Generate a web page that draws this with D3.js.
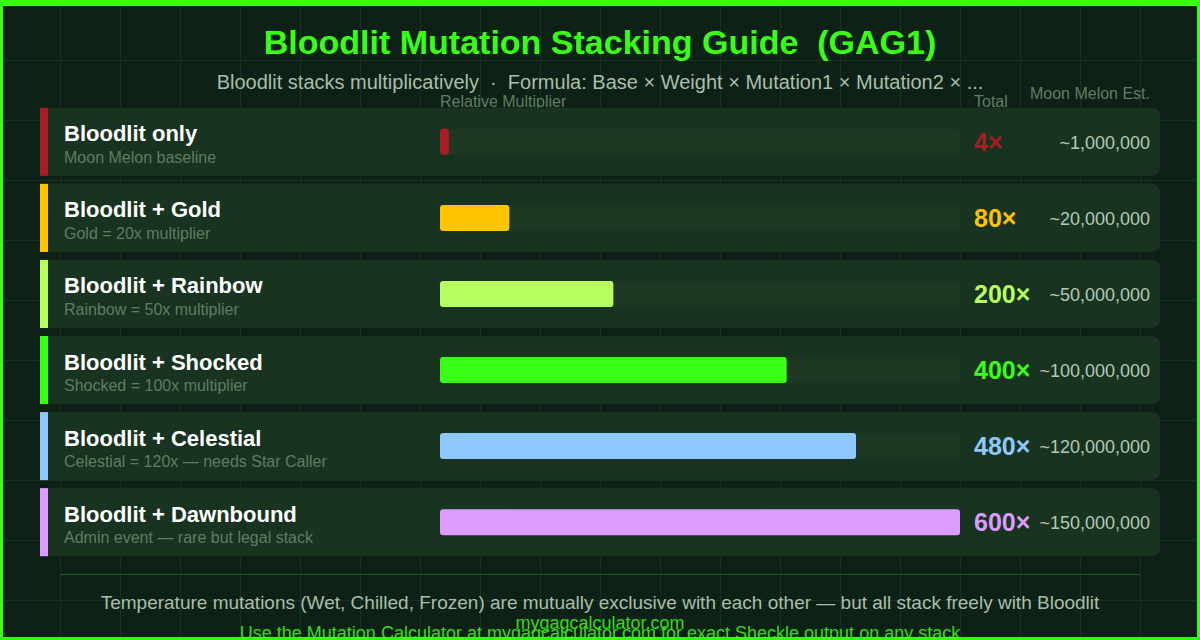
<!DOCTYPE html>
<html>
<head>
<meta charset="utf-8">
<script src="https://cdn.jsdelivr.net/npm/d3@7"></script>
<style>
  html, body { margin: 0; padding: 0; background: #0e2116; }
  svg { display: block; font-family: "Liberation Sans", Arial, sans-serif; }
</style>
</head>
<body>
<div id="chart"></div>
<script>
// data
var names = ["Bloodlit only", "Bloodlit + Gold", "Bloodlit + Rainbow", "Bloodlit + Shocked", "Bloodlit + Celestial", "Bloodlit + Dawnbound"];
var notes = ["Moon Melon baseline", "Gold = 20x multiplier", "Rainbow = 50x multiplier", "Shocked = 100x multiplier", "Celestial = 120x \u2014 needs Star Caller", "Admin event \u2014 rare but legal stack"];
var totals = [4, 80, 200, 400, 480, 600];
var estimates = ["~1,000,000", "~20,000,000", "~50,000,000", "~100,000,000", "~120,000,000", "~150,000,000"];
var colors = ["#a61e22", "#ffc300", "#b5ff5e", "#39ff14", "#8fc8ff", "#dc9cff"];

var width = 1200, height = 640;
var green = "#39ff14";

var svg = d3.select("#chart").append("svg")
    .attr("width", width)
    .attr("height", height);

svg.append("rect").attr("width", width).attr("height", height).attr("fill", "#0e2116");

// background grid
var grid = svg.append("g").attr("stroke", "#173222").attr("stroke-width", 1);
grid.selectAll("line.v").data(d3.range(60, width, 60)).enter().append("line")
    .attr("x1", d => d + 0.5).attr("x2", d => d + 0.5).attr("y1", 0).attr("y2", height);
grid.selectAll("line.h").data(d3.range(60, height, 60)).enter().append("line")
    .attr("x1", 0).attr("x2", width).attr("y1", d => d + 0.5).attr("y2", d => d + 0.5);

// titles
svg.append("text")
    .attr("x", 600).attr("y", 54)
    .attr("text-anchor", "middle")
    .attr("fill", green)
    .style("font-size", "34px").style("font-weight", "bold")
    .text("Bloodlit Mutation Stacking Guide \u00a0(GAG1)");

svg.append("text")
    .attr("x", 600).attr("y", 89)
    .attr("text-anchor", "middle")
    .attr("fill", "#a9bfa9")
    .style("font-size", "20px")
    .text("Bloodlit stacks multiplicatively \u00a0\u00b7\u00a0 Formula: Base \u00d7 Weight \u00d7 Mutation1 \u00d7 Mutation2 \u00d7 ...");

// scales
var y = d3.scaleBand().domain(names).range([104, 560]).paddingInner(8 / 76).paddingOuter(0.05);
var x = d3.scaleLinear().domain([0, d3.max(totals)]).range([440, 960]);

// column headers
var headCol = "#5f7d63";
svg.append("text").attr("x", 440).attr("y", 107).attr("fill", headCol).style("font-size", "16px").text("Relative Multiplier");
svg.append("text").attr("x", 974).attr("y", 107).attr("fill", headCol).style("font-size", "16px").text("Total");
svg.append("text").attr("x", 1150).attr("y", 99).attr("text-anchor", "end").attr("fill", headCol).style("font-size", "16px").text("Moon Melon Est.");

var rows = svg.selectAll("g.row")
    .data(names)
    .enter()
    .append("g")
    .attr("class", "row")
    .attr("transform", d => `translate(0,${y(d)})`);

var h = y.bandwidth();

rows.append("rect")
    .attr("x", 40).attr("width", 1120).attr("height", h)
    .attr("rx", 8)
    .attr("fill", "#183320");

// square colour stripe over the card's left edge
rows.append("rect")
    .attr("x", 40).attr("width", 8).attr("height", h)
    .attr("fill", (d, i) => colors[i]);

rows.append("text")
    .attr("x", 64).attr("y", h / 2 - 0.5)
    .attr("fill", "#ffffff")
    .style("font-size", "22px").style("font-weight", "bold")
    .text(d => d);

rows.append("text")
    .attr("x", 64).attr("y", h / 2 + 21)
    .attr("fill", "#5f7d63")
    .style("font-size", "16px")
    .text((d, i) => notes[i]);

// track
rows.append("rect")
    .attr("x", x(0)).attr("y", h / 2 - 13)
    .attr("width", x(600) - x(0)).attr("height", 26)
    .attr("rx", 5)
    .attr("fill", "#1f3823");

// bar
rows.append("rect")
    .attr("x", x(0)).attr("y", h / 2 - 13)
    .attr("width", (d, i) => Math.max(9, x(totals[i]) - x(0)))
    .attr("height", 26)
    .attr("rx", 3)
    .attr("fill", (d, i) => colors[i]);

rows.append("text")
    .attr("x", 974).attr("y", h / 2 + 9)
    .attr("fill", (d, i) => colors[i])
    .style("font-size", "25px").style("font-weight", "bold")
    .text((d, i) => totals[i] + "\u00d7");

rows.append("text")
    .attr("x", 1150).attr("y", h / 2 + 7)
    .attr("text-anchor", "end")
    .attr("fill", "#b5c7b5")
    .style("font-size", "18px")
    .text((d, i) => estimates[i]);

// footer
svg.append("line")
    .attr("x1", 60).attr("x2", 1140).attr("y1", 574.5).attr("y2", 574.5)
    .attr("stroke", "#1d5c16").attr("stroke-width", 1);

svg.append("text")
    .attr("x", 600).attr("y", 609)
    .attr("text-anchor", "middle")
    .attr("fill", "#a9bfa9")
    .style("font-size", "19px")
    .text("Temperature mutations (Wet, Chilled, Frozen) are mutually exclusive with each other \u2014 but all stack freely with Bloodlit");

svg.append("text")
    .attr("x", 600).attr("y", 629)
    .attr("text-anchor", "middle")
    .attr("fill", "#33dd14")
    .style("font-size", "18px")
    .text("mygagcalculator.com");

svg.append("text")
    .attr("x", 600).attr("y", 639)
    .attr("text-anchor", "middle")
    .attr("fill", "#33dd14")
    .style("font-size", "18px")
    .text("Use the Mutation Calculator at mygagcalculator.com for exact Sheckle output on any stack");

// border
svg.append("rect")
    .attr("x", 0).attr("y", 0).attr("width", width).attr("height", height)
    .attr("fill", "none").attr("stroke", green).attr("stroke-width", 6);
svg.append("rect")
    .attr("x", 0).attr("y", 0).attr("width", width).attr("height", 6)
    .attr("fill", green);
</script>
</body>
</html>
